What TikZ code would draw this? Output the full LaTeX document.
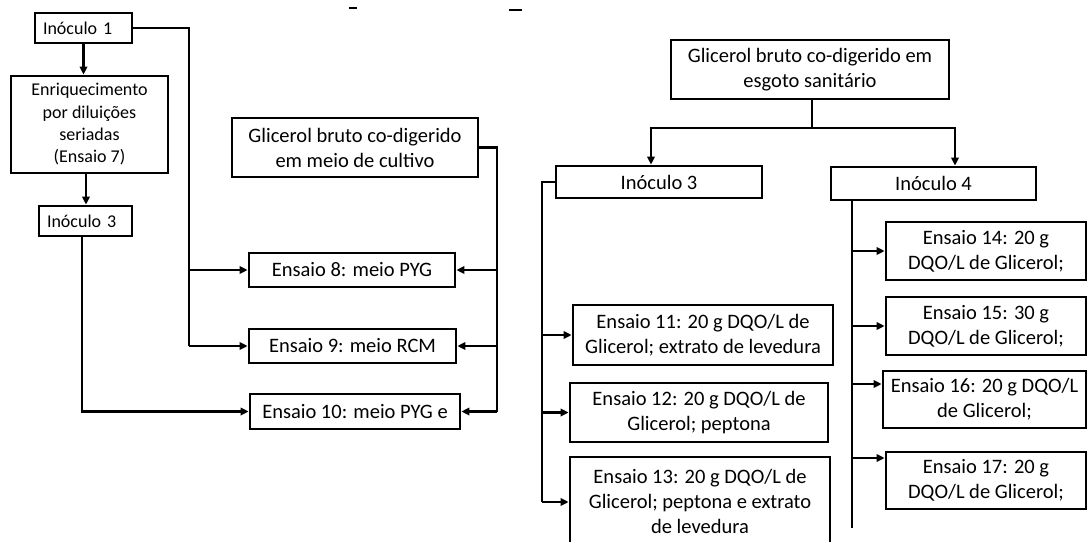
\documentclass[tikz,border=0pt]{standalone}
\usepackage{fontspec}
\setmainfont{Carlito}
\usetikzlibrary{arrows.meta,calc}
\begin{document}
\begin{tikzpicture}[x=1pt,y=-1pt,
  box/.style={draw,line width=2.8pt,inner sep=0pt,align=center,font=\fontsize{20.5}{25}\selectfont},
  sbox/.style={box,font=\fontsize{18}{22.3}\selectfont},
  lbox/.style={sbox,inner xsep=8pt,align=left},
  ln/.style={line width=2.9pt},
  arr/.style={ln,-{Triangle[length=8pt,width=7.5pt]}}]
\useasboundingbox (0,0) rectangle (1090,541);
\clip (0,0) rectangle (1090,541);
\fill[white] (0,0) rectangle (1090,541);

% stray marks of a cut-off title
\draw[line width=2pt] (349,8) -- (357,8);
\draw[line width=2pt] (509,9.5) -- (522,9.5);

% left diagram
\node[lbox,text width=81pt,minimum height=30pt] (in1) at (83.5,28) {Inóculo 1};
\node[sbox,minimum width=157pt,minimum height=97pt] (enr) at (89.5,124.5)
  {Enriquecimento\\por diluições\\seriadas\\(Ensaio 7)};
\node[lbox,text width=77pt,minimum height=30pt] (in3L) at (85.5,221) {Inóculo 3};
\node[box,minimum width=246pt,minimum height=59pt] (glic1) at (355,147.5)
  {Glicerol bruto co-digerido\\em meio de cultivo};
\node[box,minimum width=206pt,minimum height=34pt] (e8) at (352,270) {Ensaio 8: meio PYG};
\node[box,minimum width=207pt,minimum height=34pt] (e9) at (352.5,346) {Ensaio 9: meio RCM};
\node[box,minimum width=210pt,minimum height=35pt] (e10) at (355,411.5) {Ensaio 10: meio PYG e};

\draw[arr] (in1.south) -- (in1.south |- enr.north);
\draw[arr] ([xshift=-3.5pt]enr.south) -- ([xshift=-3.5pt]enr.south |- in3L.north);
\coordinate (k1) at (189,346);
\draw[ln] (in1.east) -| (k1);
\draw[arr] (k1 |- e8.west) -- (e8.west);
\draw[arr] (k1) -- (e9.west);
\draw[arr] ([xshift=-3.5pt]in3L.south) |- (e10.west);
\coordinate (k3) at (497,411.5);
\draw[ln] (glic1.east) -| (k3);
\draw[arr] (k3 |- e8.east) -- (e8.east);
\draw[arr] (k3 |- e9.east) -- (e9.east);
\draw[arr] (k3) -- (e10.east);

% right diagram
\node[box,minimum width=278pt,minimum height=59pt] (glic2) at (810,69.5)
  {Glicerol bruto co-digerido em\\esgoto sanitário};
\node[box,minimum width=206pt,minimum height=32pt] (in3R) at (659,182) {Inóculo 3};
\node[box,minimum width=205pt,minimum height=33pt] (in4) at (933.5,183.5) {Inóculo 4};
\node[box,minimum width=260pt,minimum height=60pt] (e11) at (703,335)
  {Ensaio 11: 20 g DQO/L de\\Glicerol; extrato de levedura};
\node[box,minimum width=258pt,minimum height=59pt] (e12) at (699,412.5)
  {Ensaio 12: 20 g DQO/L de\\Glicerol; peptona};
\node[box,minimum width=260pt,minimum height=88pt] (e13) at (700,501)
  {Ensaio 13: 20 g DQO/L de\\Glicerol; peptona e extrato\\de levedura};
\node[box,minimum width=200pt,minimum height=58pt] (e14) at (986,251)
  {Ensaio 14: 20 g\\DQO/L de Glicerol;};
\node[box,minimum width=200pt,minimum height=58pt] (e15) at (986,326)
  {Ensaio 15: 30 g\\DQO/L de Glicerol;};
\node[box,minimum width=203pt,minimum height=57pt] (e16) at (984.5,399.5)
  {Ensaio 16: 20 g DQO/L\\de Glicerol;};
\node[box,minimum width=200pt,minimum height=57pt] (e17) at (986,480.5)
  {Ensaio 17: 20 g\\DQO/L de Glicerol;};

\coordinate (j) at (812,128);
\coordinate (bl) at (651,128);
\coordinate (br) at (955,128);
\draw[ln] (glic2.south -| j) -- (j);
\draw[ln] ([xshift=-1.45pt]bl) -- ([xshift=1.45pt]br);
\draw[arr] (bl) -- (bl |- in3R.north);
\draw[arr] (br) -- (br |- in4.north);

\coordinate (k4) at (542,502);
\draw[ln] (in3R.west) -| (k4);
\draw[arr] (k4 |- e11.west) -- (e11.west);
\draw[arr] (k4 |- e12.west) -- (e12.west);
\draw[arr] (k4) -- (k4 -| e13.west);

\coordinate (k5) at (852,528);
\draw[ln] (in4.south -| k5) -- (k5);
\draw[arr] (k5 |- e14.west) -- (e14.west);
\draw[arr] (k5 |- e15.west) -- (e15.west);
\draw[arr] (k5 |- 0,384) -- (e16.west |- 0,384);
\draw[arr] (k5 |- 0,458) -- (e17.west |- 0,458);
\end{tikzpicture}
\end{document}
